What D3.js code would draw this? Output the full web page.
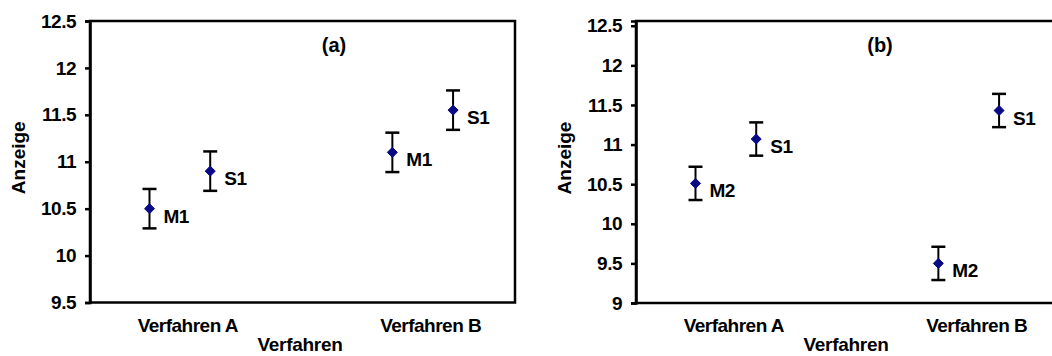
<!DOCTYPE html>
<html>
<head>
<meta charset="utf-8">
<script src="https://cdn.jsdelivr.net/npm/d3@7"></script>
<style>
  html, body { margin: 0; padding: 0; background: #fff; overflow: hidden; }
  text { font-family: "Liberation Sans", Arial, sans-serif; font-weight: bold; fill: #000; }
</style>
</head>
<body>
<svg id="chart" width="1052" height="356"></svg>
<script>
// Category labels on the x axis
const categories = ["Verfahren A", "Verfahren B"];

// Panel (a): means and error half-widths per category
const seriesA_M1 = [10.5, 11.1];
const seriesA_S1 = [10.9, 11.55];
const errA_M1 = [0.21, 0.21];
const errA_S1 = [0.21, 0.21];

// Panel (b)
const seriesB_M2 = [10.51, 9.5];
const seriesB_S1 = [11.07, 11.43];
const errB_M2 = [0.21, 0.21];
const errB_S1 = [0.21, 0.21];

// Y tick values
const ticksA = [9.5, 10, 10.5, 11, 11.5, 12, 12.5];
const ticksB = [9, 9.5, 10, 10.5, 11, 11.5, 12, 12.5];

const svg = d3.select("#chart");
const fontSize = 19;

function drawPanel(cfg) {
  const { left, top, width, height, yDomain, ticks, series, tag } = cfg;
  const g = svg.append("g");

  const y = d3.scaleLinear().domain(yDomain).range([top + height, top]);
  // category index 1..n, with series placed on either side of each category
  const x = d3.scaleLinear().domain([0.63, 2.38]).range([left, left + width]);
  const offset = 0.125;

  // frame
  g.append("rect")
    .attr("x", left).attr("y", top)
    .attr("width", width).attr("height", height)
    .attr("fill", "none").attr("stroke", "#000").attr("stroke-width", 2.5);

  // y axis
  const yAxis = d3.axisLeft(y)
    .tickValues(ticks)
    .tickSize(5)
    .tickPadding(9)
    .tickFormat(d => String(d));
  const ya = g.append("g").attr("transform", `translate(${left},0)`).call(yAxis);
  ya.select(".domain").attr("stroke", "#000").attr("stroke-width", 2.5);
  ya.selectAll(".tick line").attr("stroke", "#000").attr("stroke-width", 2.5);
  ya.selectAll(".tick text")
    .attr("font-size", fontSize)
    .attr("font-family", "Liberation Sans, Arial, sans-serif")
    .attr("font-weight", "bold")
    .attr("letter-spacing", "-0.5px")
    .attr("fill", "#000");

  // category labels
  g.selectAll("text.cat")
    .data(categories)
    .enter().append("text")
    .attr("class", "cat")
    .attr("x", (d, i) => x(i + 1) + 8)
    .attr("y", top + height + 29)
    .attr("text-anchor", "middle")
    .attr("font-size", fontSize)
    .attr("letter-spacing", "-0.5px")
    .text(d => d);

  // axis titles
  g.append("text")
    .attr("x", left + 210)
    .attr("y", 351)
    .attr("text-anchor", "middle")
    .attr("font-size", fontSize)
    .attr("letter-spacing", "-0.3px")
    .text("Verfahren");

  g.append("text")
    .attr("transform", `translate(${left - 65},${top + height / 2 - 4}) rotate(-90)`)
    .attr("text-anchor", "middle")
    .attr("font-size", 19)
    .text("Anzeige");

  // panel tag
  g.append("text")
    .attr("x", left + 244)
    .attr("y", 52)
    .attr("text-anchor", "middle")
    .attr("font-size", 20)
    .text(tag);

  // points with error bars
  series.forEach((s, si) => {
    const side = si === 0 ? -offset : offset;
    const pts = s.values.map((v, i) => ({ v, e: s.err[i], cx: x(i + 1 + side) }));
    const sg = g.append("g");

    sg.selectAll("line.bar").data(pts).enter().append("line")
      .attr("x1", d => d.cx).attr("x2", d => d.cx)
      .attr("y1", d => y(d.v - d.e)).attr("y2", d => y(d.v + d.e))
      .attr("stroke", "#000").attr("stroke-width", 2);
    [-1, 1].forEach(sign => {
      sg.selectAll(null).data(pts).enter().append("line")
        .attr("x1", d => d.cx - 7).attr("x2", d => d.cx + 7)
        .attr("y1", d => y(d.v + sign * d.e)).attr("y2", d => y(d.v + sign * d.e))
        .attr("stroke", "#000").attr("stroke-width", 2.5);
    });

    sg.selectAll("path.pt").data(pts).enter().append("path")
      .attr("d", d3.symbol(d3.symbolDiamond2, 64)())
      .attr("transform", d => `translate(${d.cx},${y(d.v)})`)
      .attr("fill", "#0a0a85")
      .attr("stroke", "#0a0a85").attr("stroke-width", 1);

    sg.selectAll("text.lbl").data(pts).enter().append("text")
      .attr("x", d => d.cx + 14)
      .attr("y", d => y(d.v) + 14)
      .attr("font-size", fontSize)
      .attr("letter-spacing", "-0.5px")
      .text(s.name);
  });
}

drawPanel({
  left: 90, top: 21, width: 425, height: 281.5,
  yDomain: [9.5, 12.5], ticks: ticksA, tag: "(a)",
  series: [
    { name: "M1", values: seriesA_M1, err: errA_M1 },
    { name: "S1", values: seriesA_S1, err: errA_S1 }
  ]
});

drawPanel({
  left: 636, top: 21, width: 425, height: 282,
  yDomain: [9, 12.56], ticks: ticksB, tag: "(b)",
  series: [
    { name: "M2", values: seriesB_M2, err: errB_M2 },
    { name: "S1", values: seriesB_S1, err: errB_S1 }
  ]
});
</script>
</body>
</html>
